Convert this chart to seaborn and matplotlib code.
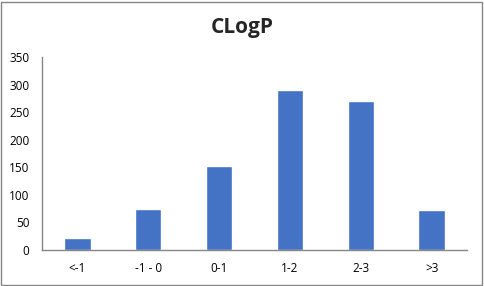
import matplotlib
matplotlib.use("Agg")
import matplotlib.pyplot as plt
import seaborn as sns
import pandas as pd
from matplotlib.patches import Rectangle

categories = ["<-1", "-1 - 0", "0-1", "1-2", "2-3", ">3"]
values = [22, 75, 153, 291, 270, 73]
yticks = [0, 50, 100, 150, 200, 250, 300, 350]

sns.set_theme(style="white")
plt.rcParams['font.family'] = ['Open Sans', 'DejaVu Sans']

df = pd.DataFrame({"cat": categories, "val": values})

fig = plt.figure(figsize=(4.84, 2.86), dpi=100)
ax = fig.add_axes([42/484, 36/286, 425/484, 193/286])
sns.barplot(data=df, x="cat", y="val", color="#4472C4", width=0.37, saturation=1, ax=ax)
ax.set_ylim(0, 350)
ax.set_xlim(-0.5, 5.5)
ax.set_yticks(yticks)
ax.set_yticklabels([str(t) for t in yticks], fontsize=8.5, color="#000000")
ax.tick_params(axis='x', labelsize=8.5, colors="#000000", length=0, pad=9)
ax.tick_params(axis='y', length=0, pad=9)
ax.set_xlabel("")
ax.set_ylabel("")
for s in ["top", "right"]:
    ax.spines[s].set_visible(False)
for s in ["left", "bottom"]:
    ax.spines[s].set_color("#868686")
    ax.spines[s].set_linewidth(1)
fig.text(0.5, 0.905, "CLogP", ha="center", va="center", fontsize=15, fontweight="bold")
fig.patches.append(Rectangle((0.002, 0.004), 0.994, 0.99, transform=fig.transFigure,
                             fill=False, edgecolor="#868686", linewidth=1))
fig.savefig("out.png", dpi=100)
